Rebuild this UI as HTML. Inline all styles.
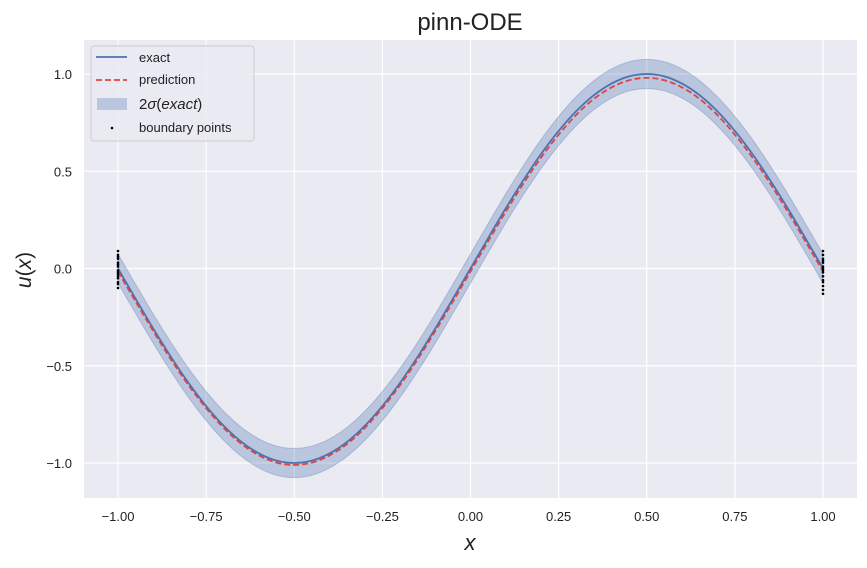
<!DOCTYPE html>
<html><head><meta charset="utf-8"><style>
body{margin:0;background:#fff;font-family:"Liberation Sans","DejaVu Sans",sans-serif}
svg text{font-family:"Liberation Sans","DejaVu Sans",sans-serif}
</style></head><body>
<svg id="c" width="867" height="563" xmlns="http://www.w3.org/2000/svg">
<rect x="0" y="0" width="867" height="563" fill="#fff"/>
<rect x="84" y="40" width="773" height="458" fill="#eaeaf2"/>
<g id="grid"></g><g id="marks"></g><g id="axes"></g>
<text x="470" y="30" font-size="24" text-anchor="middle" fill="#222">pinn-ODE</text>
<text x="470" y="550" font-size="22" font-style="italic" text-anchor="middle" fill="#222">x</text>
<text transform="translate(31,270) rotate(-90)" font-size="21" text-anchor="middle" fill="#222"><tspan font-style="italic">u</tspan>(<tspan font-style="italic">x</tspan>)</text>
<g>
<rect x="91" y="46" width="163" height="95" rx="3" fill="#eaeaf2" fill-opacity="0.8" stroke="#ccc"/>
<line x1="96" y1="57" x2="127" y2="57" stroke="#4c72b0" stroke-width="1.8"/>
<text x="139" y="62" font-size="13" fill="#222">exact</text>
<line x1="96" y1="80" x2="127" y2="80" stroke="#dd4444" stroke-width="1.8" stroke-dasharray="6,3"/>
<text x="139" y="84" font-size="13" fill="#222">prediction</text>
<rect x="97" y="98" width="30" height="12" fill="#4c72b0" fill-opacity="0.3"/>
<text x="139" y="109" font-size="15" fill="#222">2<tspan font-style="italic">σ</tspan>(<tspan font-style="italic">exact</tspan>)</text>
<circle cx="112" cy="128" r="1.3" fill="#000"/>
<text x="139" y="132" font-size="13" fill="#222">boundary points</text>
</g>
</svg>
<script>
const xs=[-1,-0.95,-0.9,-0.85,-0.8,-0.75,-0.7,-0.65,-0.6,-0.55,-0.5,-0.45,-0.4,-0.35,-0.3,-0.25,-0.2,-0.15,-0.1,-0.05,0,0.05,0.1,0.15,0.2,0.25,0.3,0.35,0.4,0.45,0.5,0.55,0.6,0.65,0.7,0.75,0.8,0.85,0.9,0.95,1];
const exact=[0,-0.156,-0.309,-0.454,-0.588,-0.707,-0.809,-0.891,-0.951,-0.988,-1,-0.988,-0.951,-0.891,-0.809,-0.707,-0.588,-0.454,-0.309,-0.156,0,0.156,0.309,0.454,0.588,0.707,0.809,0.891,0.951,0.988,1,0.988,0.951,0.891,0.809,0.707,0.588,0.454,0.309,0.156,0];
const prediction=[-0.015,-0.170,-0.322,-0.467,-0.600,-0.718,-0.820,-0.902,-0.961,-0.998,-1.010,-0.998,-0.961,-0.902,-0.820,-0.718,-0.600,-0.467,-0.322,-0.170,-0.015,0.140,0.292,0.437,0.570,0.688,0.790,0.872,0.931,0.968,0.980,0.968,0.931,0.872,0.790,0.688,0.570,0.437,0.292,0.140,-0.015];
const band=[0.075];
const bx=[-1,-1,-1,-1,-1,-1,-1,-1,-1,-1,-1,-1,-1,-1,-1,1,1,1,1,1,1,1,1,1,1,1,1,1,1,1];
const by=[0.09,0.07,0.05,0.03,0.01,-0.01,-0.02,-0.04,-0.05,-0.07,-0.08,-0.1,0.02,-0.03,0.06,0.09,0.07,0.05,0.03,0.01,-0.01,-0.02,-0.04,-0.06,-0.07,-0.09,-0.11,-0.13,0.0,0.04];
const xTicks=[-1,-0.75,-0.5,-0.25,0,0.25,0.5,0.75,1];
const xTickLabels=["−1.00","−0.75","−0.50","−0.25","0.00","0.25","0.50","0.75","1.00"];
const yTicks=[1,0.5,0,-0.5,-1];
const yTickLabels=["1.0","0.5","0.0","−0.5","−1.0"];
const L=84,R=857,T=40,B=498;
const X=v=>470.5+v*352.5, Y=v=>268.5-v*194.5;
const NS="http://www.w3.org/2000/svg";
function mk(p,tag,at){const e=document.createElementNS(NS,tag);for(const k in at)e.setAttribute(k,at[k]);p.appendChild(e);return e;}
function curve(pts,start){let d=start?'M':'L';d+=pts[0][0]+','+pts[0][1];
 for(let i=0;i<pts.length-1;i++){const p0=pts[Math.max(0,i-1)],p1=pts[i],p2=pts[i+1],p3=pts[Math.min(pts.length-1,i+2)];
  d+=' C'+(p1[0]+(p2[0]-p0[0])/6)+','+(p1[1]+(p2[1]-p0[1])/6)+' '+(p2[0]-(p3[0]-p1[0])/6)+','+(p2[1]-(p3[1]-p1[1])/6)+' '+p2[0]+','+p2[1];}
 return d;}
const grid=document.getElementById('grid'),marks=document.getElementById('marks'),axes=document.getElementById('axes');
xTicks.forEach((t,i)=>{
 const g=mk(grid,'line',{x1:X(t),x2:X(t),y1:T,y2:B,stroke:'#fff','stroke-width':1.2});
 
 
 const tx=mk(axes,'text',{x:X(t),y:521,'font-size':13,'text-anchor':'middle',fill:'#222'});tx.textContent=xTickLabels[i];
 
 
});
yTicks.forEach((t,i)=>{
 const g=mk(grid,'line',{x1:L,x2:R,y1:Y(t),y2:Y(t),stroke:'#fff','stroke-width':1.2});
 
 
 const tx=mk(axes,'text',{x:72,y:Y(t)+5,'font-size':13,'text-anchor':'end',fill:'#222'});tx.textContent=yTickLabels[i];
 
 
});
const up=xs.map((x,i)=>[X(x),Y(exact[i]+band[0])]), dn=xs.map((x,i)=>[X(x),Y(exact[i]-band[0])]).reverse();
const bnd=mk(marks,'path',{d:curve(up,true)+' '+curve(dn,false)+' Z',fill:'#4c72b0','fill-opacity':0.3,stroke:'#4c72b0','stroke-opacity':0.3});


const ex=mk(marks,'path',{d:curve(xs.map((x,i)=>[X(x),Y(exact[i])]),true),fill:'none',stroke:'#4c72b0','stroke-width':1.8});


const pr=mk(marks,'path',{d:curve(xs.map((x,i)=>[X(x),Y(prediction[i])]),true),fill:'none',stroke:'#dd4444','stroke-width':1.8,'stroke-dasharray':'6,3'});


bx.forEach((x,i)=>{
 const c=mk(marks,'circle',{cx:X(x),cy:Y(by[i]),r:1.3,fill:'#000'});
 
 
});
</script>
</body></html>
